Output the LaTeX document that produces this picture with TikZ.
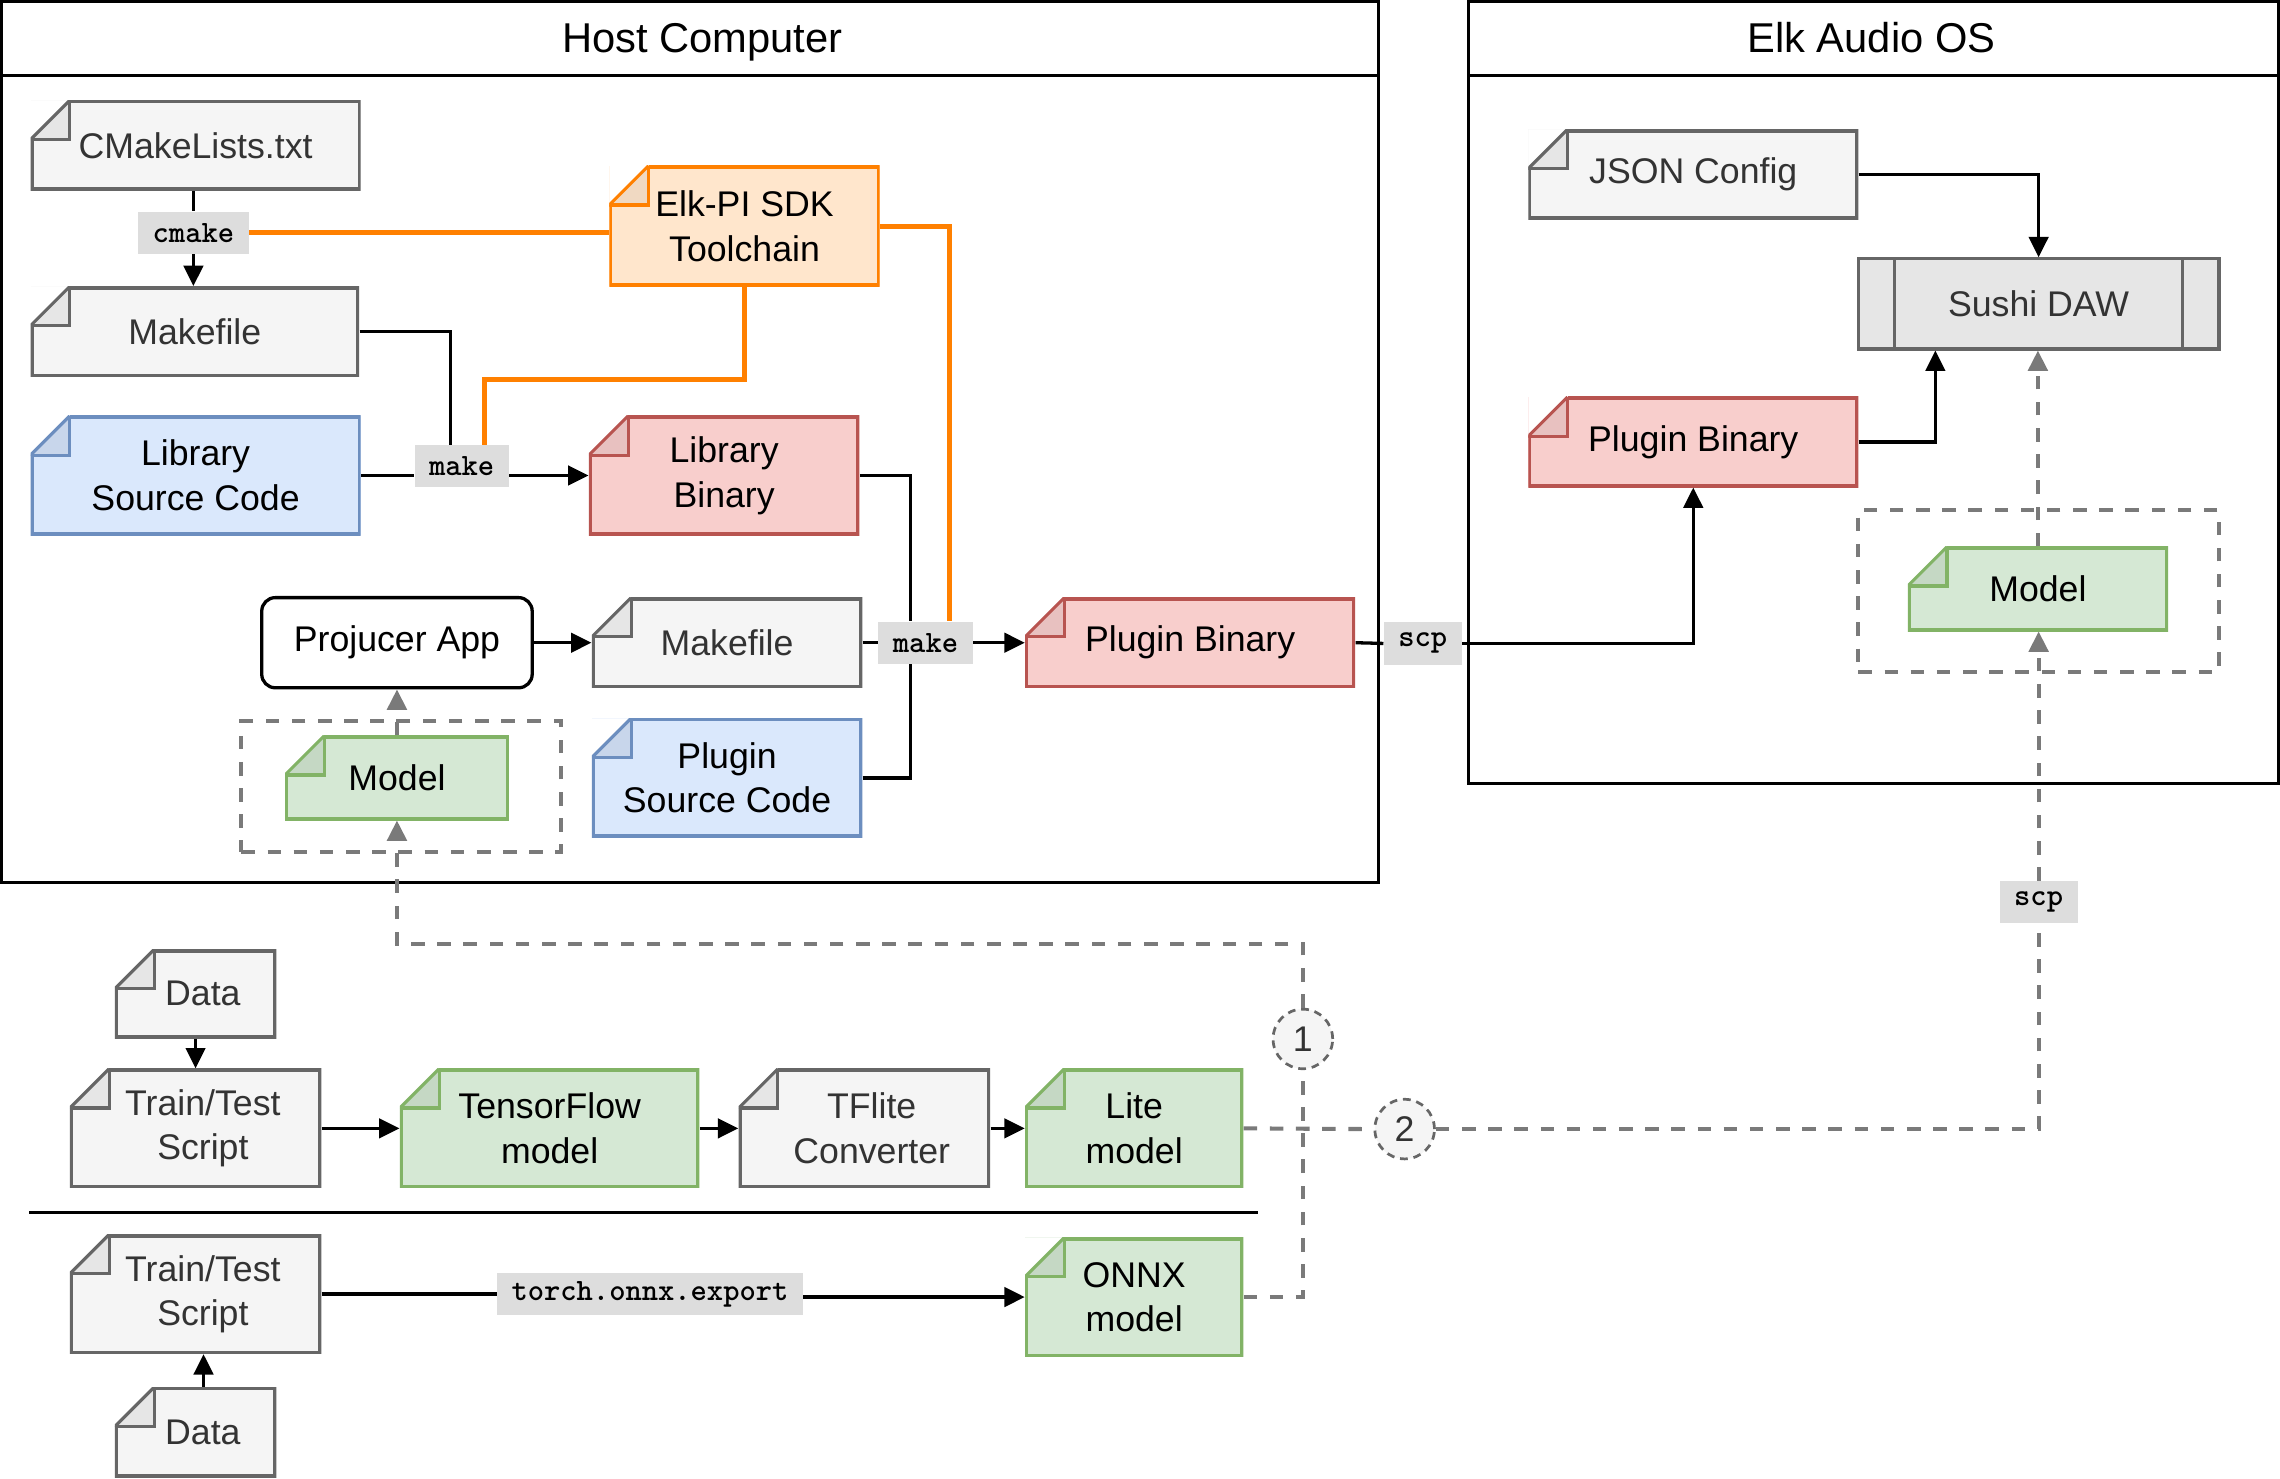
\documentclass[tikz,border=0pt]{standalone}
\usepackage{fontspec}
\setmainfont{Liberation Sans}
\usetikzlibrary{arrows.meta}

\definecolor{grayfill}{HTML}{F5F5F5}
\definecolor{grayline}{HTML}{666666}
\definecolor{grayfold}{HTML}{E6E6E6}
\definecolor{graytext}{HTML}{333333}
\definecolor{bluefill}{HTML}{DAE8FC}
\definecolor{blueline}{HTML}{6C8EBF}
\definecolor{bluefold}{HTML}{C8D6EB}
\definecolor{redfill}{HTML}{F8CECC}
\definecolor{redline}{HTML}{B85450}
\definecolor{redfold}{HTML}{E8C1C0}
\definecolor{greenfill}{HTML}{D5E8D4}
\definecolor{greenline}{HTML}{82B366}
\definecolor{greenfold}{HTML}{C5D8C4}
\definecolor{sdkfill}{HTML}{FFE6CC}
\definecolor{sdkline}{HTML}{FF8000}
\definecolor{sdkfold}{HTML}{F0D9C2}
\definecolor{sushifill}{HTML}{E6E6E6}
\definecolor{lblfill}{HTML}{DDDDDD}
\definecolor{dashgray}{HTML}{7A7A7A}

\newcommand{\docfold}{20.25pt}
\newcommand{\ind}{\hspace*{7.5pt}}

\tikzset{
  boxsize/.style 2 args={minimum width=#1*0.75pt, minimum height=#2*0.75pt},
  doc/.style n args={3}{rectangle, inner sep=0pt, align=center, fill=#1, draw=none,
    path picture={
      \fill[white] (path picture bounding box.north west) -- ([xshift=\docfold]path picture bounding box.north west)
        -- ([yshift=-\docfold]path picture bounding box.north west) -- cycle;
      \filldraw[fill=#3, draw=#2, line width=1.6pt] ([yshift=-\docfold]path picture bounding box.north west)
        -- ([xshift=\docfold, yshift=-\docfold]path picture bounding box.north west)
        -- ([xshift=\docfold]path picture bounding box.north west);
      \draw[#2, line width=1.6pt] ([yshift=-\docfold]path picture bounding box.north west)
        -- ([xshift=\docfold]path picture bounding box.north west);
      \draw[#2, line width=3.2pt] ([xshift=\docfold]path picture bounding box.north west)
        -- (path picture bounding box.north east) -- (path picture bounding box.south east)
        -- (path picture bounding box.south west) -- ([yshift=-\docfold]path picture bounding box.north west);
    }},
  graydoc/.style={doc={grayfill}{grayline}{grayfold}, text=graytext},
  bluedoc/.style={doc={bluefill}{blueline}{bluefold}},
  reddoc/.style={doc={redfill}{redline}{redfold}},
  greendoc/.style={doc={greenfill}{greenline}{greenfold}},
  sdkdoc/.style={doc={sdkfill}{sdkline}{sdkfold}},
  process/.style={rectangle, fill=sushifill, draw=grayline, line width=1.6pt, text=graytext,
    path picture={
      \draw[grayline, line width=1.6pt] ([xshift=18.75pt]path picture bounding box.north west)
        -- ([xshift=18.75pt]path picture bounding box.south west);
      \draw[grayline, line width=1.6pt] ([xshift=-18.75pt]path picture bounding box.north east)
        -- ([xshift=-18.75pt]path picture bounding box.south east);
    }},
  app/.style={rectangle, rounded corners=7pt, draw=black, fill=white, line width=1.7pt},
  holder/.style={rectangle, draw=dashgray, line width=2.1pt, dash pattern=on 7pt off 6.5pt},
  frame/.style={rectangle, draw=black, line width=1.6pt},
  title/.style={anchor=base, font=\fontsize{21.5}{26}\selectfont},
  lbl/.style={rectangle, fill=lblfill, inner xsep=7.5pt, inner ysep=0pt, minimum height=21.75pt,
    font=\ttfamily\bfseries\fontsize{16}{18}\selectfont},
  numcircle/.style={circle, fill=grayfill, draw=grayline, line width=1.4pt, dash pattern=on 4pt off 3pt,
    minimum size=30.75pt, inner sep=0pt, text=graytext},
  conn/.style={line width=1.7pt},
  tool/.style={draw=sdkline, line width=2.5pt},
  dashconn/.style={dashgray, line width=2.1pt, dash pattern=on 7pt off 6.5pt},
}

\begin{document}
\begin{tikzpicture}[x=0.75pt, y=-0.75pt, font=\fontsize{18.4}{23}\selectfont,
  >={Triangle[length=10.5pt, width=10pt]}]
\useasboundingbox (0,0) rectangle (1568,1017);

% frames
\node[frame, boxsize={947}{606}] (host) at (474.5,304) {};
\node[title] (hosttitle) at (483,36) {Host Computer};
\draw[line width=1.6pt] (host.west |- 0,52) -- (host.east |- 0,52);
\node[frame, boxsize={557}{538}] (elk) at (1288.5,270) {};
\node[title] (elktitle) at (1287,36) {Elk Audio OS};
\draw[line width=1.6pt] (elk.west |- 0,52) -- (elk.east |- 0,52);

% host computer
\node[graydoc, boxsize={227}{62}] (cmakelists) at (134.5,100) {CMakeLists.txt};
\node[sdkdoc, boxsize={186}{83}] (sdk) at (512,155.5) {Elk-PI SDK\\Toolchain};
\node[graydoc, boxsize={226}{62}] (makefileA) at (134,228) {Makefile};
\node[bluedoc, boxsize={227}{82}] (libsrc) at (134.5,327) {Library\\Source Code};
\node[reddoc, boxsize={186}{82}] (libbin) at (498,327) {Library\\Binary};
\node[app, boxsize={186}{62}] (projucer) at (273,442) {Projucer App};
\node[graydoc, boxsize={186}{62}] (makefileB) at (500,442) {Makefile};
\node[bluedoc, boxsize={186}{82}] (plugsrc) at (500,535) {Plugin\\Source Code};
\node[holder, boxsize={220}{90}] (modelboxA) at (276,541) {};
\node[greendoc, boxsize={154}{58}] (modelA) at (273,535) {Model};
\node[reddoc, boxsize={227}{62}] (pluginbin) at (818.5,442) {Plugin Binary};

% elk audio os
\node[graydoc, boxsize={227}{62}] (json) at (1164.5,120) {JSON Config};
\node[process, boxsize={248}{62}] (sushi) at (1402,209) {Sushi DAW};
\node[reddoc, boxsize={227}{62}] (pluginbinB) at (1164.5,304) {Plugin Binary};
\node[holder, boxsize={248}{111}] (modelboxB) at (1402,406.5) {};
\node[greendoc, boxsize={179}{58}] (modelB) at (1401.5,405) {Model};

% training
\node[graydoc, boxsize={111}{61}] (data1) at (134.5,683.5) {\ind Data};
\node[graydoc, boxsize={173}{82}] (train1) at (134.5,776) {\ind Train/Test\\\ind Script};
\node[greendoc, boxsize={206}{82}] (tfmodel) at (378,776) {TensorFlow\\model};
\node[graydoc, boxsize={173}{82}] (tflite) at (594.5,776) {\ind TFlite\\\ind Converter};
\node[greendoc, boxsize={150}{82}] (litemodel) at (780,776) {Lite\\model};
\node[graydoc, boxsize={173}{82}] (train2) at (134.5,890) {\ind Train/Test\\\ind Script};
\node[greendoc, boxsize={150}{82}] (onnx) at (780,892) {ONNX\\model};
\node[graydoc, boxsize={111}{62}] (data2) at (134.5,985) {\ind Data};
\node[numcircle] (circle1) at (896,714.5) {1};
\node[numcircle] (circle2) at (966,776.5) {2};

% edge labels
\node[lbl] (cmakelbl) at (133,160) {cmake};
\node[lbl] (makelbl) at (317.5,320.5) {make};
\node[lbl] (makelblB) at (636.5,442) {make};
\node[lbl] (scplbl) at (978.5,442.5) {scp};
\node[lbl] (scplblB) at (1402,620.5) {scp};
\node[lbl] (torchlbl) at (447,890) {torch.onnx.export};

% build
\draw[conn] (cmakelbl.north |- cmakelists.south) -- (cmakelbl.north);
\draw[conn,->] (cmakelbl.south) -- (cmakelbl.south |- makefileA.north);
\draw[tool] (cmakelbl.east) -- (cmakelbl.east -| sdk.west);
\draw[conn] (makefileA.east) -| ([xshift=-5.6pt]makelbl.north);
\draw[conn] (libsrc.east) -- (libsrc.east -| makelbl.west);
\draw[conn,->] (makelbl.east |- libbin.west) -- (libbin.west);
\draw[tool] (sdk.south) -- (sdk.south |- 0,261) -| ([xshift=11.6pt]makelbl.north);
\draw[conn] (libbin.east) -| ([xshift=-7.9pt]makelblB.north);
\draw[conn] (plugsrc.east) -| ([xshift=-7.9pt]makelblB.south);
\draw[conn] (makefileB.east) -- (makelblB.west);
\draw[conn,->] (makelblB.east) -- (pluginbin.west);
\draw[tool] (sdk.east) -| ([xshift=12.4pt]makelblB.north);
\draw[conn,->] (projucer.east) -- (makefileB.west);
\draw[dashconn,->] (modelA.north) -- (projucer.south);

% deploy
\draw[conn] (pluginbin.east) -- (scplbl.west);
\draw[conn,->] (scplbl.east) -| (pluginbinB.south);
\draw[conn,->] (json.east) -| (sushi.north);
\draw[conn,->] (pluginbinB.east) -| ([xshift=-53.25pt]sushi.south);
\draw[dashconn,->] (modelB.north) -- (modelB.north |- sushi.south);

% models
\draw[conn,->] (data1.south) -- (train1.north);
\draw[conn,->] (train1.east) -- (tfmodel.west);
\draw[conn,->] (tfmodel.east) -- (tflite.west);
\draw[conn,->] (tflite.east) -- (litemodel.west);
\draw[line width=1.7pt] (20,834) -- (865,834);
\draw[conn] (train2.east) -- (torchlbl.west);
\draw[conn,->] (torchlbl.east |- onnx.west) -- (onnx.west);
\draw[conn,->] ([xshift=4.1pt]data2.north) -- ([xshift=4.1pt]data2.north |- train2.south);
\draw[dashconn] (litemodel.east) -- (circle2.west);
\draw[dashconn] (circle2.east) -| (scplblB.south);
\draw[dashconn,->] (scplblB.north) -- (scplblB.north |- modelB.south);
\draw[dashconn] (onnx.east) -| (circle1.south);
\draw[dashconn,->] (circle1.north) -- (circle1.north |- 0,649) -| (modelA.south);

\end{tikzpicture}
\end{document}
